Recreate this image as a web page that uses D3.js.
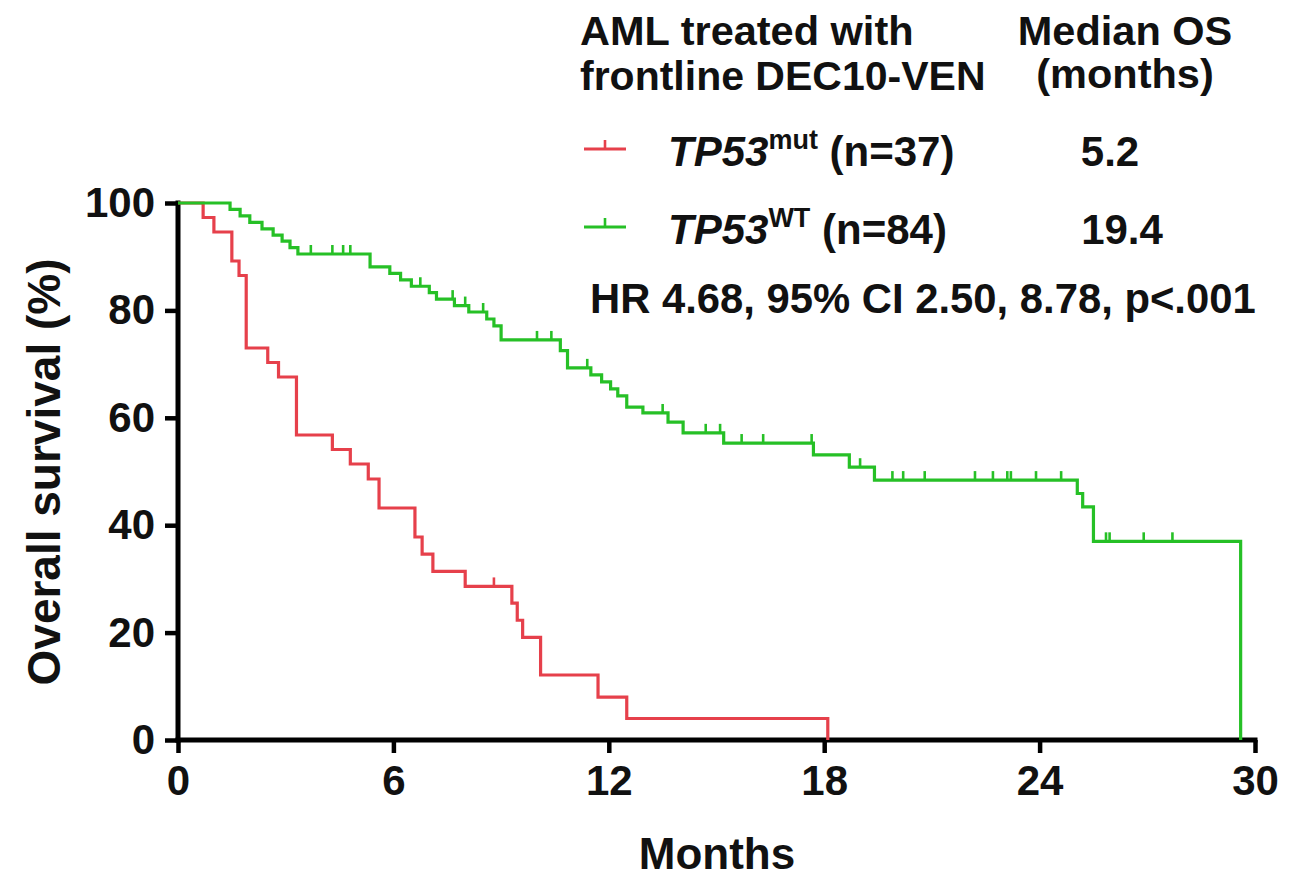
<!DOCTYPE html>
<html>
<head>
<meta charset="utf-8">
<script src="https://cdn.jsdelivr.net/npm/d3@7"></script>
<style>
  body { margin: 0; background: #fff; }
  text { font-family: "Liberation Sans", Arial, sans-serif; font-weight: bold; fill: #111; }
</style>
</head>
<body>
<script>
'use strict';

// survival steps (months, % surviving after the drop)
const redTimes = [0, 0.7, 1.0, 1.5, 1.7, 1.9, 2.5, 2.8, 3.3, 4.3, 4.8, 5.3, 5.6, 6.6, 6.8, 7.1, 8.0, 9.3, 9.45, 9.6, 10.1, 11.7, 12.5, 18.1];
const redSurv = [100, 97.3, 94.6, 89.2, 86.5, 73.0, 70.3, 67.6, 56.8, 54.1, 51.4, 48.6, 43.2, 37.8, 34.6, 31.4, 28.6, 25.5, 22.3, 19.1, 12.1, 8.0, 4.0, 0];
const redCensor = [8.8];

const greenTimes = [0, 1.45, 1.73, 2.0, 2.34, 2.65, 2.9, 3.12, 3.34, 5.35, 5.9, 6.2, 6.5, 7.0, 7.2, 7.7, 8.1, 8.6, 8.8, 9.0,
  10.65, 10.85, 11.5, 11.8, 12.05, 12.25, 12.5, 12.95, 13.65, 14.07, 15.2, 17.7, 18.7, 19.4, 25.05, 25.2, 25.5, 29.6];
const greenSurv = [100, 98.8, 97.6, 96.4, 95.2, 94.0, 92.9, 91.7, 90.5, 88.1, 86.9, 85.7, 84.5, 83.3, 82.1, 80.9, 79.7, 78.4, 77.1, 74.5,
  72.5, 69.3, 68.0, 66.7, 65.4, 64.1, 62.0, 60.9, 59.2, 57.2, 55.3, 53.1, 50.8, 48.4, 45.9, 43.4, 37.0, 0];
const greenCensor = [3.7, 4.3, 4.6, 4.8, 6.75, 7.65, 8.0, 8.5, 10.0, 10.4, 11.4, 13.5, 14.7, 15.1, 15.7, 16.3, 17.65, 19.0, 19.9,
  20.2, 20.8, 22.2, 22.7, 23.1, 23.2, 23.9, 24.6, 25.85, 25.95, 26.9, 27.7];

const xTicks = [0, 6, 12, 18, 24, 30];
const yTicks = [0, 20, 40, 60, 80, 100];

const RED = "#e6404b";
const GREEN = "#26c026";

let svg = "";

window.onload = function() {
  svg = d3.select('body').append('svg')
    .attr('width', 1302)
    .attr('height', 882);

  let scales = drawAxes();
  drawCurve(redTimes, redSurv, redCensor, RED, scales);
  drawCurve(greenTimes, greenSurv, greenCensor, GREEN, scales);
  drawLegend();
};

function drawAxes() {
  let x = d3.scaleLinear().domain([0, 30]).range([178, 1255]);
  let y = d3.scaleLinear().domain([0, 100]).range([740, 203]);

  let xAxis = svg.append('g')
    .attr('transform', 'translate(0,740)')
    .call(d3.axisBottom(x).tickValues(xTicks).tickSize(13).tickSizeOuter(0).tickPadding(12));

  let yAxis = svg.append('g')
    .attr('transform', 'translate(178,0)')
    .call(d3.axisLeft(y).tickValues(yTicks).tickSize(13).tickSizeOuter(0).tickPadding(10));

  [xAxis, yAxis].forEach(g => {
    g.select('.domain').attr('stroke', '#000').attr('stroke-width', 5);
    g.selectAll('.tick line').attr('stroke', '#000').attr('stroke-width', 4.5);
    g.selectAll('.tick text')
      .attr('font-size', 42)
      .attr('font-family', '"Liberation Sans", Arial, sans-serif')
      .attr('font-weight', 'bold')
      .attr('fill', '#111');
  });
  // axis lines meet at the origin corner
  yAxis.select('.domain').attr('d', 'M0,742.5V200.5');
  xAxis.select('.domain').attr('d', 'M175.5,0H1257.5');

  svg.append('text')
    .attr('transform', 'translate(60,472) rotate(-90)')
    .attr('text-anchor', 'middle')
    .attr('font-size', 46)
    .text('Overall survival (%)');

  svg.append('text')
    .attr('x', 717)
    .attr('y', 869)
    .attr('text-anchor', 'middle')
    .attr('font-size', 44)
    .text('Months');

  return { x: x, y: y };
}

// survival value at time t from a step function
function survAt(times, surv, t) {
  let i = d3.bisectRight(times, t) - 1;
  return surv[Math.max(0, i)];
}

function drawCurve(times, surv, censor, color, s) {
  let pts = times.map((t, i) => [t, surv[i]]);
  let line = d3.line()
    .x(d => s.x(d[0]))
    .y(d => s.y(d[1]))
    .curve(d3.curveStepAfter);

  svg.append('path')
    .datum(pts)
    .attr('d', line)
    .attr('fill', 'none')
    .attr('stroke', color)
    .attr('stroke-width', 3.2);

  svg.selectAll(null)
    .data(censor)
    .enter()
    .append('line')
      .attr('x1', d => s.x(d))
      .attr('x2', d => s.x(d))
      .attr('y1', d => s.y(survAt(times, surv, d)))
      .attr('y2', d => s.y(survAt(times, surv, d)) - 9)
      .attr('stroke', color)
      .attr('stroke-width', 2.6);
}

function drawLegend() {
  svg.append('text').attr('x', 580).attr('y', 45).attr('font-size', 41.5).text('AML treated with');
  svg.append('text').attr('x', 580).attr('y', 90).attr('font-size', 41).text('frontline DEC10-VEN');
  svg.append('text').attr('x', 1125).attr('y', 45).attr('font-size', 41.5).attr('text-anchor', 'middle').text('Median OS');
  svg.append('text').attr('x', 1125).attr('y', 88).attr('font-size', 41.5).attr('text-anchor', 'middle').text('(months)');

  let rows = [
    { color: RED, sup: 'mut', n: ' (n=37)', median: '5.2', y: 166, mx: 1110 },
    { color: GREEN, sup: 'WT', n: ' (n=84)', median: '19.4', y: 244, mx: 1122 }
  ];

  rows.forEach(r => {
    svg.append('line')
      .attr('x1', 584).attr('x2', 626)
      .attr('y1', r.y - 17).attr('y2', r.y - 17)
      .attr('stroke', r.color).attr('stroke-width', 3.2);
    svg.append('line')
      .attr('x1', 605).attr('x2', 605)
      .attr('y1', r.y - 17).attr('y2', r.y - 26)
      .attr('stroke', r.color).attr('stroke-width', 2.6);

    let t = svg.append('text').attr('x', 668).attr('y', r.y).attr('font-size', 42);
    t.append('tspan').attr('font-style', 'italic').text('TP53');
    t.append('tspan').attr('font-size', 27).attr('dy', -17).text(r.sup);
    t.append('tspan').attr('dy', 17).text(r.n);

    svg.append('text')
      .attr('x', r.mx).attr('y', r.y)
      .attr('font-size', 42)
      .attr('text-anchor', 'middle')
      .text(r.median);
  });

  svg.append('text').attr('x', 590).attr('y', 313).attr('font-size', 41.8)
    .text('HR 4.68, 95% CI 2.50, 8.78, p<.001');
}
</script>
</body>
</html>
